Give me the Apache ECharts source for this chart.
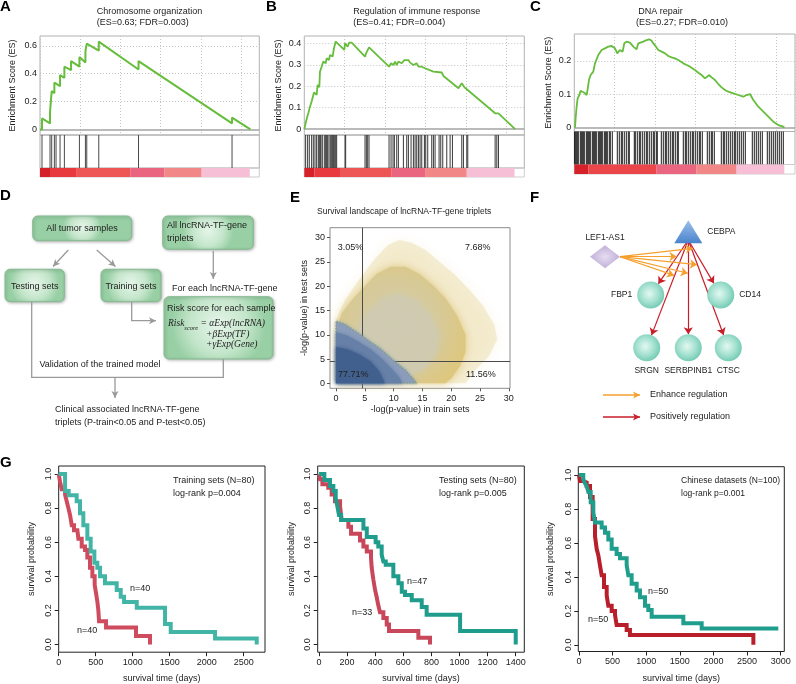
<!DOCTYPE html>
<html>
<head>
<meta charset="utf-8">
<script src="https://cdn.jsdelivr.net/npm/echarts@6.0.0/dist/echarts.min.js"></script>
<style>
html,body{margin:0;padding:0;background:#ffffff;}
#chart{width:796px;height:684px;}
</style>
</head>
<body>
<div id="chart"></div>
<script>
// ======================= DATA =======================
// --- A / B / C : GSEA enrichment plots (x = gene rank, y = ES)
const titleA = ['Chromosome organization', '(ES=0.63; FDR=0.003)'];
const titleB = ['Regulation of immune response', '(ES=0.41; FDR=0.004)'];
const titleC = ['DNA repair', '(ES=0.27; FDR=0.010)'];
const esTicksA = [0, 0.2, 0.4, 0.6];
const esTicksB = [0, 0.1, 0.2, 0.3, 0.4];
const esTicksC = [0, 0.1, 0.2];

const esA = [[0,0],[199,0],[199,0.079],[996,0.043],[996,0.127],[1162,0.12],[1162,0.275],[1428,0.26],[1428,0.335],[1992,0.31],[1992,0.39],[2424,0.37],[2424,0.45],[3088,0.425],[3088,0.49],[3918,0.45],[3918,0.52],[4515,0.48],[4515,0.56],[4648,0.555],[4648,0.615],[5843,0.565],[5843,0.63],[9794,0.43],[9794,0.49],[19090,0.043],[19090,0.085],[20916,0]];
const hitsA = [199,996,1162,1428,1594,1992,2424,3918,4515,4648,5843,9794,19090];
const barA = [[0,996],[996,3586],[3586,8964],[8964,12350],[12350,16070],[16070,20850]];

const esB = [[0,0],[132,0.028],[298,0.059],[397,0.074],[562,0.105],[727,0.129],[959,0.171],[1058,0.175],[1223,0.16],[1322,0.206],[1488,0.195],[1554,0.268],[1719,0.291],[1884,0.315],[2116,0.307],[2215,0.33],[2446,0.322],[2546,0.346],[2810,0.338],[2942,0.377],[3108,0.408],[3306,0.4],[3967,0.369],[4033,0.4],[4298,0.384],[4430,0.403],[4695,0.403],[6017,0.338],[6116,0.353],[6414,0.381],[6612,0.377],[8397,0.291],[8596,0.307],[8827,0.299],[8992,0.315],[9158,0.299],[9323,0.315],[9654,0.307],[9918,0.322],[10315,0.322],[10480,0.31],[10811,0.299],[11141,0.307],[11307,0.291],[11637,0.291],[11968,0.284],[12794,0.268],[13621,0.264],[13786,0.248],[15274,0.191],[15604,0.214],[15869,0.195],[16100,0.186],[16266,0.195],[18910,0.074],[19241,0.074],[19406,0.067],[20894,0]];
const hitsB = [132,331,496,727,893,1058,1223,1389,1488,1587,1653,1785,1984,2116,2215,2314,2446,2579,2711,2810,2909,2975,3108,3207,4033,4099,6017,6149,6281,6414,8397,8596,8794,8926,9158,9323,9819,10149,10315,10579,10811,10976,11141,11307,11472,11637,11902,12034,12232,12629,12794,12959,13356,13522,13720,14117,14447,14678,15604,15769,16100,16199,18910,19076,19241];
const barB = [[0,992],[992,3537],[3537,8662],[8662,11968],[11968,16100],[16100,20830]];

const esC = [[67,0],[133,0.028],[233,0.063],[333,0.088],[500,0.098],[633,0.111],[833,0.108],[1000,0.105],[1233,0.098],[1333,0.115],[1467,0.143],[1633,0.158],[1900,0.168],[2067,0.193],[2400,0.218],[2733,0.233],[3067,0.238],[3400,0.243],[3733,0.245],[4067,0.238],[4300,0.223],[4567,0.233],[4833,0.228],[5000,0.253],[5233,0.258],[5567,0.255],[5900,0.243],[6233,0.235],[6400,0.253],[6567,0.258],[6900,0.258],[7233,0.263],[7500,0.265],[7733,0.261],[7900,0.253],[8167,0.243],[8400,0.233],[8733,0.228],[9067,0.223],[9400,0.215],[9733,0.211],[10067,0.208],[10400,0.203],[10900,0.193],[11233,0.188],[11567,0.183],[12067,0.173],[12400,0.165],[12733,0.158],[13067,0.148],[13233,0.151],[13500,0.158],[13733,0.151],[14067,0.143],[14400,0.131],[14733,0.121],[15067,0.113],[15400,0.108],[15900,0.103],[16400,0.098],[16900,0.093],[17233,0.098],[17567,0.101],[17900,0.083],[18400,0.063],[18900,0.048],[19400,0.033],[19900,0.018],[20400,0.008],[20900,0.003],[21000,0]];
const hitsC = [30,100,200,300,400,600,700,800,900,1000,1200,1300,1400,1500,1600,1800,1900,2000,2100,2200,2400,2500,2600,2700,2800,3000,3100,3200,3300,3500,3600,3800,4300,4500,4700,4800,5000,5200,5400,5500,6000,6100,6300,6500,6600,6800,7000,7200,7300,7500,7700,7900,8000,8200,8300,8700,8900,9100,9200,9400,9600,9800,9900,10100,10300,10400,10900,11100,11200,11400,11600,11800,11900,12100,12300,12500,12600,12800,13300,13500,13700,13800,14000,14700,14900,15000,15200,15400,15600,15800,16000,16100,16300,16500,16700,16900,17100,17800,18000,18200,18400,18600,18800,19300,19500,19700,19900,20100,20300,20500,20700,20900];
const barC = [[0,1400],[1400,8233],[8233,12233],[12233,16233],[16233,21000]];

// --- E : survival landscape (cloud outlines in -log(p) units)
const eTitle = 'Survival landscape of lncRNA-TF-gene triplets';
const eTicks = [0, 5, 10, 15, 20, 25, 30];
const eThreshold = 4.6;
const eQuadrantLabels = ['3.05%', '7.68%', '77.71%', '11.56%'];
const eHalo = [[0,0],[0,13],[1.5,17],[3.5,20.5],[5,23],[7,26],[9,28.5],[11,29.5],[13,29],[15.5,27.5],[18,25],[20.5,22.5],[23,19.5],[25.5,16],[27.5,12],[28,9],[26.5,5.5],[24,2.5],[22.5,0]];
const eBody = [[0.5,0],[0,11],[1,14.5],[3,17.5],[5,20],[7,22.5],[9.5,24],[12,24],[14.5,22.5],[17,20],[19,17.5],[21,14],[22.5,10],[22.5,6.5],[21.5,3.5],[20,1],[19,0]];
const eCore = [[3,4],[3,10],[5,14],[8,17.5],[11,18.5],[14,17],[16.5,14],[18,10],[17.5,6],[15.5,3],[12,1],[7,1.5]];
const eBlueOuter = [[0,0],[0,12.8],[1.5,12.2],[3,11],[4.5,9.8],[6,8.5],[7.5,7.3],[9,5.8],[10.5,4.2],[12,2.8],[13.2,1.2],[14,0]];
const eBlueMid = [[0,0],[0,10.5],[2,9.8],[4,8.5],[6,7],[8,5],[9.5,3.2],[11,1.2],[11.5,0]];
const eBlueCore = [[0,0],[0,7.5],[2,7],[4,6],[6,4.5],[7.5,2.5],[8.5,0]];

// --- F : regulatory network
const netNodes = ['CEBPA', 'LEF1-AS1', 'FBP1', 'CD14', 'SRGN', 'SERBPINB1', 'CTSC'];
const netPositive = [['CEBPA','FBP1'],['CEBPA','CD14'],['CEBPA','SRGN'],['CEBPA','SERBPINB1'],['CEBPA','CTSC']];
const netEnhance = [['LEF1-AS1','FBP1'],['LEF1-AS1','CD14'],['LEF1-AS1','SRGN'],['LEF1-AS1','SERBPINB1'],['LEF1-AS1','CTSC']];
const netLegend = ['Enhance regulation', 'Positively regulation'];

// --- G : Kaplan-Meier curves [days, survival probability]
const kmTitles = [['Training sets (N=80)', 'log-rank p=0.004'], ['Testing sets (N=80)', 'log-rank p=0.005'], ['Chinese datasets (N=100)', 'log-rank p=0.001']];
const kmN = [['n=40', 'n=40'], ['n=47', 'n=33'], ['n=50', 'n=50']];
const kmYTicks = [0, 0.2, 0.4, 0.6, 0.8, 1.0];
const kmXTicks1 = [0, 500, 1000, 1500, 2000, 2500];
const kmXTicks2 = [0, 200, 400, 600, 800, 1000, 1200, 1400];
const kmXTicks3 = [0, 500, 1000, 1500, 2000, 2500, 3000];
const km1High = [[0,1],[86,0.9],[135,0.875],[243,0.84],[288,0.77],[333,0.7],[387,0.62],[432,0.545],[482,0.48],[522,0.45],[559,0.4],[626,0.36],[784,0.32],[838,0.28],[883,0.25],[1055,0.215],[1437,0.12],[1514,0.074],[2113,0.035],[2676,0]];
const km1Low = [[0,1],[18,0.955],[41,0.91],[86,0.88],[108,0.84],[131,0.8],[153,0.76],[176,0.7],[207,0.67],[252,0.66],[266,0.62],[311,0.575],[356,0.555],[387,0.51],[423,0.45],[455,0.4],[486,0.35],[505,0.3],[523,0.25],[536,0.2],[545,0.137],[640,0.1],[1045,0.05],[1234,0]];
const km2High = [[0,1],[38,0.965],[78,0.93],[102,0.9],[119,0.86],[133,0.8],[142,0.76],[157,0.73],[316,0.68],[340,0.63],[403,0.6],[422,0.575],[446,0.526],[458,0.487],[475,0.468],[529,0.4],[565,0.36],[589,0.31],[612,0.29],[660,0.26],[731,0.22],[766,0.175],[1004,0.08],[1400,0]];
const km2Low = [[0,1],[7,0.97],[24,0.94],[66,0.92],[90,0.88],[114,0.84],[150,0.81],[161,0.73],[209,0.69],[228,0.65],[292,0.61],[316,0.575],[340,0.545],[370,0.51],[375,0.45],[387,0.38],[399,0.32],[410,0.28],[422,0.23],[434,0.19],[458,0.155],[482,0.117],[498,0.08],[707,0.04],[790,0]];
const km3High = [[0,1],[64,0.975],[89,0.95],[114,0.935],[139,0.9],[174,0.84],[213,0.78],[238,0.72],[337,0.69],[387,0.66],[436,0.62],[486,0.565],[560,0.535],[610,0.51],[709,0.47],[734,0.41],[783,0.36],[858,0.32],[907,0.28],[982,0.23],[1031,0.205],[1081,0.166],[1552,0.127],[1825,0.097],[2965,0.097]];
const km3Low = [[0,1],[15,0.965],[64,0.955],[114,0.935],[164,0.87],[203,0.74],[238,0.64],[263,0.565],[288,0.526],[312,0.468],[337,0.41],[372,0.34],[412,0.29],[436,0.23],[486,0.2],[536,0.175],[560,0.117],[709,0.088],[758,0.058],[2594,0]];

// --- D : flowchart texts
const dTexts = {
  tumor: 'All tumor samples', triplets: ['All lncRNA-TF-gene', 'triplets'],
  testing: 'Testing sets', training: 'Training sets', forEach: 'For each lncRNA-TF-gene',
  risk: 'Risk score for each sample', validation: 'Validation of the trained model',
  clinical: ['Clinical associated lncRNA-TF-gene', 'triplets (P-train<0.05 and P-test<0.05)']
};

// ======================= BUILD =======================
const FONT = '"Liberation Sans", Arial, Helvetica, sans-serif';
const SERIF = '"Liberation Serif", "DejaVu Serif", serif';
const grids = [], xAxes = [], yAxes = [], series = [], graphics = [];
const plainNum = function (v) { return String(Math.round(v)); };

function txt(x, y, text, o) {
  o = o || {};
  const align = o.align || 'left', valign = o.valign || 'middle';
  graphics.push({
    type: 'text', x: x, y: y, z: 50, silent: true, rotation: o.rotation || 0,
    style: { text: text, font: (o.weight ? o.weight + ' ' : '') + (o.size || 9) + 'px ' + (o.family || FONT),
      fill: o.color || '#222', textAlign: align, textVerticalAlign: valign, align: align, verticalAlign: valign }
  });
}
function poly(points, color, width) {
  graphics.push({ type: 'polyline', silent: true, z: 40, shape: { points: points }, style: { stroke: color, lineWidth: width, fill: null } });
}
function head(from, to, color, L, W) {
  const ang = Math.atan2(to[1] - from[1], to[0] - from[0]);
  const bx = to[0] - L * Math.cos(ang), by = to[1] - L * Math.sin(ang);
  const nx = -Math.sin(ang), ny = Math.cos(ang);
  graphics.push({ type: 'polygon', silent: true, z: 41, shape: { points: [to, [bx + W * nx, by + W * ny], [bx + 0.25 * L * Math.cos(ang), by + 0.25 * L * Math.sin(ang)], [bx - W * nx, by - W * ny]] }, style: { fill: color } });
}
function arrow(points, color, width) {
  poly(points, color, width);
  head(points[points.length - 2], points[points.length - 1], color, 7, 3.5);
}
function box(x, y, w, h) {
  graphics.push({ type: 'rect', silent: true, z: 30, shape: { x: x, y: y, width: w, height: h, r: 5 },
    style: { fill: new echarts.graphic.RadialGradient(0.5, 0.45, 0.75, [{ offset: 0, color: '#e6f5e9' }, { offset: 0.6, color: '#c4e6cb' }, { offset: 1, color: '#98cfa4' }]),
      stroke: '#84bb90', lineWidth: 1, shadowBlur: 3, shadowColor: 'rgba(0,0,0,0.25)', shadowOffsetX: 1, shadowOffsetY: 1 } });
}

// ---------- GSEA ----------
function gseaPanel(bx, curve, hits, bars, barColors, yr, yticks, xr, nameGap, lw, hitColor) {
  const gi = grids.length;
  const left = bx[0], top = bx[1], width = bx[2], h1 = bx[3], h2 = bx[4], h3 = bx[5];
  grids.push({ left: left, top: top, width: width, height: h1, show: true, borderColor: '#b0b0b0', borderWidth: 1 });
  grids.push({ left: left, top: top + h1, width: width, height: h2, show: true, borderColor: '#b0b0b0', borderWidth: 1 });
  grids.push({ left: left, top: top + h1 + h2, width: width, height: h3, show: true, borderColor: '#cccccc', borderWidth: 1 });
  for (let k = 0; k < 3; k++) {
    xAxes.push({ type: 'value', gridIndex: gi + k, min: 0, max: xr[0], interval: xr[1], axisLine: { show: false, onZero: false }, axisTick: { show: false }, axisLabel: { show: false },
      splitLine: { show: k === 0, lineStyle: { type: [1, 2], color: '#c4c4c4', width: 1 } } });
  }
  yAxes.push({ type: 'value', gridIndex: gi, min: yr[0], max: yr[1], axisLine: { show: false, onZero: false }, axisTick: { show: false }, splitLine: { show: false },
    axisLabel: { customValues: yticks, formatter: function (v) { return Math.abs(v) < 1e-9 ? '0' : v.toFixed(1); }, fontSize: 9, color: '#222', margin: 3, fontFamily: FONT },
    name: 'Enrichment Score (ES)', nameLocation: 'middle', nameGap: nameGap, nameTextStyle: { fontSize: 9, color: '#222', fontFamily: FONT } });
  yAxes.push({ type: 'value', gridIndex: gi + 1, min: 0, max: 1, show: false, axisLine: { onZero: false } });
  yAxes.push({ type: 'value', gridIndex: gi + 2, min: 0, max: 1, show: false, axisLine: { onZero: false } });
  series.push({ type: 'line', xAxisIndex: gi, yAxisIndex: gi, data: curve, symbol: 'none', showSymbol: false, z: 5, animation: false,
    lineStyle: { color: '#66bd3c', width: lw },
    markLine: { silent: true, symbol: 'none', animation: false, label: { show: false },
      data: yticks.filter(function (v) { return v !== 0; }).map(function (v) { return { yAxis: v, lineStyle: { type: [1, 2], color: '#c4c4c4', width: 1 } }; })
        .concat([{ yAxis: 0, lineStyle: { type: 'solid', color: '#a3a3a3', width: 1.5 } }]) } });
  series.push({ type: 'custom', xAxisIndex: gi + 1, yAxisIndex: gi + 1, data: hits.map(function (h) { return [h, 0.5]; }), silent: true, animation: false,
    renderItem: function (p, api) {
      const a = api.coord([api.value(0), 0]), b = api.coord([api.value(0), 1]);
      return { type: 'line', shape: { x1: a[0], y1: a[1], x2: b[0], y2: b[1] }, style: { stroke: hitColor, lineWidth: 1 } };
    } });
  series.push({ type: 'custom', xAxisIndex: gi + 2, yAxisIndex: gi + 2, data: bars, silent: true, animation: false,
    renderItem: function (p, api) {
      const a = api.coord([api.value(0), 0]), b = api.coord([api.value(1), 1]);
      return { type: 'rect', shape: { x: a[0], y: b[1], width: b[0] - a[0], height: a[1] - b[1] }, style: { fill: barColors[p.dataIndex] } };
    } });
}
const barColors6 = ['#d5212a', '#e8393f', '#ee5656', '#ea6680', '#f18787', '#f6bfd6'];
const barColors5 = ['#d5212a', '#eb4649', '#ea6680', '#f18787', '#f6bfd6'];
gseaPanel([40, 36, 219.3, 99, 33, 9], esA, hitsA, barA, barColors6, [-0.04, 0.67], esTicksA, [21800, 4000], 22.8, 2, '#4a4a4a');
gseaPanel([304.3, 36, 220, 99, 33, 9], esB, hitsB, barB, barColors6, [-0.027, 0.434], esTicksB, [21800, 4000], 21.5, 1.8, '#3a3a3a');
gseaPanel([574.3, 34, 220.7, 97.5, 33, 9.5], esC, hitsC, barC, barColors5, [-0.0114, 0.281], esTicksC, [22070, 4033], 21.5, 1.8, '#1c1c1c');
txt(96.7, 11.7, titleA[0]); txt(96.7, 22.7, titleA[1]);
txt(353.3, 11.7, titleB[0]); txt(353.3, 22.7, titleB[1]);
txt(638.3, 11.7, titleC[0]); txt(636, 22.7, titleC[1]);

// ---------- E ----------
const ge = grids.length;
grids.push({ left: 330, top: 227.7, width: 180, height: 160.6, show: true, borderColor: '#8c8c8c', borderWidth: 1 });
xAxes.push({ type: 'value', gridIndex: ge, min: -1.05, max: 30.2, axisLine: { show: false, onZero: false },
  axisTick: { show: true, length: 3, customValues: eTicks, lineStyle: { color: '#555' } },
  axisLabel: { customValues: eTicks, fontSize: 9, color: '#222', margin: 6, fontFamily: FONT }, splitLine: { show: false },
  name: '-log(p-value) in train sets', nameLocation: 'middle', nameGap: 17, nameTextStyle: { fontSize: 9, color: '#222', fontFamily: FONT } });
yAxes.push({ type: 'value', gridIndex: ge, min: -1.03, max: 32.05, axisLine: { show: false, onZero: false },
  axisTick: { show: true, length: 3, customValues: eTicks, lineStyle: { color: '#555' } },
  axisLabel: { customValues: eTicks, fontSize: 9, color: '#222', margin: 5, fontFamily: FONT }, splitLine: { show: false },
  name: '-log(p-value) in test sets', nameLocation: 'middle', nameGap: 20.5, nameTextStyle: { fontSize: 9, color: '#222', fontFamily: FONT } });
function polySeries(pts, style, z, extra) {
  const s = { type: 'custom', xAxisIndex: ge, yAxisIndex: ge, data: pts, z: z, silent: true, animation: false,
    renderItem: function (p, api) {
      if (p.dataIndex !== 0) return null;
      return { type: 'polygon', shape: { points: pts.map(function (q) { return api.coord(q); }) }, style: style };
    } };
  if (extra) Object.assign(s, extra);
  series.push(s);
}
polySeries(eHalo, { fill: 'rgba(226,204,128,0.3)', shadowBlur: 12, shadowColor: 'rgba(226,204,128,0.5)' }, 2);
polySeries(eBody, { fill: new echarts.graphic.RadialGradient(0.45, 0.5, 0.65, [{ offset: 0, color: '#d2cba9' }, { offset: 0.6, color: '#d7ca98' }, { offset: 1, color: '#dec77e' }]), shadowBlur: 8, shadowColor: '#dec77e' }, 3);
polySeries(eCore, { fill: 'rgba(206,202,178,0.7)', shadowBlur: 8, shadowColor: 'rgba(206,202,178,0.9)' }, 4);
polySeries(eBlueOuter, { fill: '#8c9dbb', stroke: 'rgba(110,160,80,0.55)', lineWidth: 2, lineDash: [1, 2], shadowBlur: 3, shadowColor: '#8c9dbb' }, 5);
polySeries(eBlueMid, { fill: '#6680a8', shadowBlur: 4, shadowColor: '#6680a8' }, 6);
polySeries(eBlueCore, { fill: '#42608e', shadowBlur: 4, shadowColor: '#42608e' }, 7, {
  markLine: { silent: true, symbol: 'none', animation: false, label: { show: false }, lineStyle: { color: '#4a4a4a', width: 1, type: 'solid' },
    data: [{ xAxis: eThreshold }, { yAxis: eThreshold }] } });
txt(317, 211.7, eTitle, { size: 8.5 });
txt(337.7, 247.3, eQuadrantLabels[0]); txt(465, 247.3, eQuadrantLabels[1]);
txt(338, 374.3, eQuadrantLabels[2]); txt(466, 374.3, eQuadrantLabels[3]);

// ---------- F ----------
const gf = grids.length;
grids.push({ left: 530, top: 185, width: 266, height: 215, show: false });
xAxes.push({ type: 'value', gridIndex: gf, min: 0, max: 266, show: false, axisLine: { onZero: false } });
yAxes.push({ type: 'value', gridIndex: gf, min: 0, max: 215, inverse: true, show: false, axisLine: { onZero: false } });
const netPos = { 'CEBPA': [158.3, 46.7], 'LEF1-AS1': [75, 71.7], 'FBP1': [120.7, 110], 'CD14': [190.7, 110], 'SRGN': [116.7, 162.7], 'SERBPINB1': [158.3, 162.7], 'CTSC': [198.3, 162.7] };
const netOut = { 'CEBPA': [158.3, 55], 'LEF1-AS1': [90, 71.7] };
const netEnhanceAt = { 'FBP1': 0.30, 'CD14': 0.15, 'SRGN': 0.33, 'SERBPINB1': 0.31, 'CTSC': 0.23 };
const circleFill = new echarts.graphic.RadialGradient(0.45, 0.45, 0.6, [{ offset: 0, color: '#e4f8f1' }, { offset: 0.55, color: '#a4e1d0' }, { offset: 1, color: '#6cc7b0' }]);
const labelPos = { 'CEBPA': 'right', 'LEF1-AS1': 'top', 'FBP1': 'left', 'CD14': 'right', 'SRGN': 'bottom', 'SERBPINB1': 'bottom', 'CTSC': 'bottom' };
const gNodes = [], gLinks = [];
netNodes.forEach(function (n) {
  const node = { name: n, value: netPos[n], symbol: 'circle', symbolSize: 27, itemStyle: { color: circleFill },
    label: { show: true, position: labelPos[n], distance: 5, fontSize: 8.5, color: '#222', fontFamily: FONT } };
  if (n === 'CEBPA') { node.symbol = 'triangle'; node.symbolSize = [28, 23]; node.itemStyle = { color: new echarts.graphic.LinearGradient(0, 0, 0, 1, [{ offset: 0, color: '#9cc0ec' }, { offset: 1, color: '#4a83cc' }]) }; }
  if (n === 'LEF1-AS1') { node.symbol = 'diamond'; node.symbolSize = [30, 23]; node.itemStyle = { color: new echarts.graphic.RadialGradient(0.5, 0.5, 0.6, [{ offset: 0, color: '#e6ddf1' }, { offset: 1, color: '#b9a6d3' }]) }; node.label.distance = 3; }
  gNodes.push(node);
});
Object.keys(netOut).forEach(function (n) { gNodes.push({ name: n + '_out', value: netOut[n], symbolSize: 1, itemStyle: { opacity: 0 }, label: { show: false } }); });
netPositive.forEach(function (e) {
  gLinks.push({ source: e[0] + '_out', target: e[1], lineStyle: { color: '#c81e2a', width: 1.2 } });
});
netEnhance.forEach(function (e) {
  const a = netOut['CEBPA'], b = netPos[e[1]], t = netEnhanceAt[e[1]];
  const hn = 'enh_' + e[1];
  gNodes.push({ name: hn, value: [a[0] + (b[0] - a[0]) * t, a[1] + (b[1] - a[1]) * t], symbolSize: 1, itemStyle: { opacity: 0 }, label: { show: false } });
  gLinks.push({ source: e[0] + '_out', target: hn, lineStyle: { color: '#f5a02e', width: 1.2 } });
});
series.push({ type: 'graph', coordinateSystem: 'cartesian2d', xAxisIndex: gf, yAxisIndex: gf, data: gNodes, links: gLinks, z: 10,
  edgeSymbol: ['none', 'arrow'], edgeSymbolSize: 7, animation: false, silent: true, emphasis: { disabled: true },
  lineStyle: { opacity: 1, curveness: 0 } });
arrow([[603, 395], [640, 395]], '#f5a02e', 1.3);
arrow([[603, 417], [640, 417]], '#c81e2a', 1.3);
txt(650, 395, netLegend[0]); txt(650, 417, netLegend[1]);

// ---------- D ----------
box(32.7, 216, 99, 24.7); box(162.7, 216, 90.6, 33.3); box(5, 269.3, 59.3, 32.4); box(101, 269.3, 60, 32.4); box(164, 296.7, 109, 62.3);
txt(82, 228.5, dTexts.tumor, { align: 'center' });
txt(167, 226, dTexts.triplets[0]); txt(167, 239, dTexts.triplets[1]);
txt(34.7, 286.5, dTexts.testing, { align: 'center' }); txt(131, 286.5, dTexts.training, { align: 'center' });
txt(172, 289, dTexts.forEach);
txt(167, 309, dTexts.risk);
graphics.push({ type: 'text', x: 168, y: 325, z: 50, silent: true, style: { text: '{i|Risk}{s|score}{i| = αExp(lncRNA)}', fill: '#222', textVerticalAlign: 'middle', verticalAlign: 'middle',
  rich: { i: { font: 'italic 9.5px ' + SERIF, fill: '#222', lineHeight: 13, verticalAlign: 'top' }, s: { font: 'italic 6.5px ' + SERIF, fill: '#222', lineHeight: 8, padding: [6, 0, 0, 0], verticalAlign: 'top' } } } });
txt(206, 334, '+βExp(TF)', { family: SERIF, size: 9.5, weight: 'italic' });
txt(206, 344, '+γExp(Gene)', { family: SERIF, size: 9.5, weight: 'italic' });
txt(39.5, 365, dTexts.validation);
txt(55, 410, dTexts.clinical[0]); txt(55, 423, dTexts.clinical[1]);
const GRAY = '#9a9a9a';
arrow([[68.3, 250], [53, 266.5]], GRAY, 1.3);
arrow([[96.7, 250], [115.5, 266.5]], GRAY, 1.3);
arrow([[213.3, 251], [213.3, 279]], GRAY, 1.3);
arrow([[131.7, 301.7], [131.7, 320.7], [156, 320.7]], GRAY, 1.3);
poly([[31.7, 301.7], [31.7, 377.3], [223.3, 377.3], [223.3, 359]], GRAY, 1.3);
arrow([[115, 377.3], [115, 398]], GRAY, 1.3);

// ---------- G ----------
function kmPanel(g, xr, xticks, yr, low, high, colors, nameGaps, texts, nTexts, textPos, titleSize) {
  const gi = grids.length;
  grids.push(Object.assign({ show: true, borderColor: '#222', borderWidth: 1 }, g));
  xAxes.push({ type: 'value', gridIndex: gi, min: xr[0], max: xr[1], axisLine: { show: false, onZero: false },
    axisTick: { show: true, length: 4, customValues: xticks, lineStyle: { color: '#222' } },
    axisLabel: { customValues: xticks, fontSize: 9, color: '#222', margin: 6, fontFamily: FONT, formatter: plainNum }, splitLine: { show: false },
    name: 'survival time (days)', nameLocation: 'middle', nameGap: nameGaps[0], nameTextStyle: { fontSize: 9, color: '#222', fontFamily: FONT } });
  yAxes.push({ type: 'value', gridIndex: gi, min: yr[0], max: yr[1], axisLine: { show: false, onZero: false },
    axisTick: { show: true, length: 4, customValues: kmYTicks, lineStyle: { color: '#222' } },
    axisLabel: { customValues: kmYTicks, rotate: 90, fontSize: 9, color: '#222', margin: 5.5, fontFamily: FONT, formatter: function (v) { return v.toFixed(1); } },
    splitLine: { show: false },
    name: 'survival probability', nameLocation: 'middle', nameGap: nameGaps[1], nameTextStyle: { fontSize: 9, color: '#222', fontFamily: FONT } });
  series.push({ type: 'line', xAxisIndex: gi, yAxisIndex: gi, data: low, step: 'end', symbol: 'none', showSymbol: false, animation: false, z: 3,
    lineStyle: { color: colors[1], width: 4, cap: 'butt', join: 'miter' } });
  series.push({ type: 'line', xAxisIndex: gi, yAxisIndex: gi, data: high, step: 'end', symbol: 'none', showSymbol: false, animation: false, z: 4,
    lineStyle: { color: colors[0], width: 4, cap: 'butt', join: 'miter' } });
  txt(textPos[0], 481, texts[0], { size: titleSize }); txt(textPos[0], 494, texts[1], { size: titleSize });
  txt(textPos[1][0], textPos[1][1], nTexts[0]); txt(textPos[2][0], textPos[2][1], nTexts[1]);
}
kmPanel({ left: 58.7, top: 466, width: 206.3, height: 186.7 }, [0, 2788], kmXTicks1, [-0.045, 1.047], km1Low, km1High, ['#43b5a7', '#cf4b5e'], [21.8, 22.2], kmTitles[0], kmN[0], [173, [130, 589], [77, 631]], 9);
kmPanel({ left: 317.7, top: 466, width: 206.6, height: 186.7 }, [-9.3, 1461], kmXTicks2, [-0.045, 1.047], km2Low, km2High, ['#1f9c8b', '#c9475a'], [21.8, 21.5], kmTitles[1], kmN[1], [439, [407, 582], [352, 613]], 9);
kmPanel({ left: 578.3, top: 466.7, width: 206, height: 185 }, [-10.4, 3054], kmXTicks3, [-0.039, 1.0485], km3Low, km3High, ['#1f9e8d', '#b91e2b'], [22.5, 23], kmTitles[2], kmN[2], [681, [648, 592], [588, 620]], 8.5);

// ---------- panel letters ----------
[['A', 0, -1], ['B', 266, -1], ['C', 530, -1], ['D', 0, 188], ['E', 290, 190], ['F', 530, 190], ['G', 0, 455]].forEach(function (l) {
  txt(l[1], l[2], l[0], { size: 15, weight: 'bold', valign: 'top', color: '#000' });
});

const chart = echarts.init(document.getElementById('chart'), null, { renderer: 'canvas', width: 796, height: 684 });
chart.setOption({
  animation: false,
  backgroundColor: '#ffffff',
  textStyle: { fontFamily: FONT },
  grid: grids, xAxis: xAxes, yAxis: yAxes, series: series, graphic: { elements: graphics }
});
</script>
</body>
</html>
